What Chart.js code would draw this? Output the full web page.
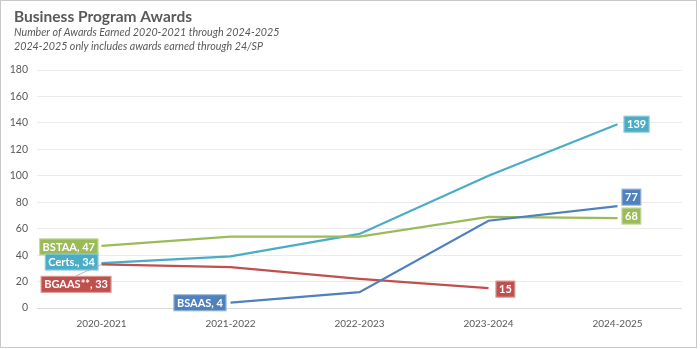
<!DOCTYPE html>
<html>
<head>
<meta charset="utf-8">
<script src="https://cdn.jsdelivr.net/npm/chart.js@4.4.1/dist/chart.umd.min.js"></script>
<style>
  html, body { margin: 0; padding: 0; background: #ffffff; }
  #wrap { position: relative; width: 700px; height: 349px; }
  #frame { position: absolute; left: 0; top: 0; width: 697px; height: 348px; box-sizing: border-box; border: 1px solid #c8c8c8; pointer-events: none; }
</style>
</head>
<body>
<div id="wrap">
  <canvas id="c" width="700" height="349"></canvas>
  <div id="frame"></div>
</div>
<script>
// ---- data ----
const categories = ["2020-2021", "2021-2022", "2022-2023", "2023-2024", "2024-2025"];
const bsaas  = [null, 4, 12, 66, 77];
const bgaas  = [33, 31, 22, 15, null];
const bstaa  = [47, 54, 54, 69, 68];
const certs  = [34, 39, 56, 100, 139];
const seriesNames = ["BSAAS", "BGAAS**", "BSTAA", "Certs."];
const yTicks = [0, 20, 40, 60, 80, 100, 120, 140, 160, 180];

const titleText = "Business Program Awards";
const subtitleLines = [
  "Number of Awards Earned 2020-2021 through 2024-2025",
  "2024-2025 only includes awards earned through 24/SP"
];

// ---- styling ----
const colors = ["#4F81BD", "#C0504D", "#9BBB59", "#4BACC6"];
const grey = "#595959";

// label placement (styling): dataset index, point index, side, gap, dy, show name, leader
const labelSpecs = [
  { ds: 2, i: 0, side: "left",  gap: 3,   dy: 1,  name: true },
  { ds: 3, i: 0, side: "left",  gap: 3,   dy: -1, name: true },
  { ds: 1, i: 0, side: "left",  gap: -10, dy: 20, name: true, leader: true },
  { ds: 0, i: 1, side: "left",  gap: 4,   dy: 0,  name: true },
  { ds: 3, i: 4, side: "right", gap: 6,   dy: 0 },
  { ds: 0, i: 4, side: "right", gap: 4,   dy: -9 },
  { ds: 2, i: 4, side: "right", gap: 4,   dy: -2 },
  { ds: 1, i: 3, side: "right", gap: 7,   dy: 1 }
];

const headerPlugin = {
  id: "header",
  afterDraw(chart) {
    const ctx = chart.ctx;
    ctx.save();
    ctx.fillStyle = grey;
    ctx.textAlign = "left";
    ctx.textBaseline = "middle";
    ctx.font = "bold 15.5px Lato";
    ctx.fillText(titleText, 14, 16.5);
    ctx.font = "italic 10.7px Lato";
    ctx.fillText(subtitleLines[0], 14, 32.5);
    ctx.fillText(subtitleLines[1], 14, 46.5);
    ctx.restore();
  }
};

const labelPlugin = {
  id: "boxLabels",
  afterDatasetsDraw(chart) {
    const ctx = chart.ctx;
    ctx.save();
    ctx.font = "bold 11px Lato";
    ctx.textBaseline = "middle";
    ctx.textAlign = "left";
    labelSpecs.forEach(s => {
      const meta = chart.getDatasetMeta(s.ds);
      const pt = meta.data[s.i];
      const ds = chart.data.datasets[s.ds];
      const v = ds.data[s.i];
      const txt = s.name ? ds.label + ", " + v : String(v);
      const w = ctx.measureText(txt).width + 7;
      const h = 17;
      const cy = pt.y + s.dy;
      const bx = s.side === "left" ? pt.x - s.gap - w : pt.x + s.gap;
      const by = cy - h / 2;
      if (s.leader) {
        ctx.strokeStyle = "#a6a6a6";
        ctx.lineWidth = 0.8;
        ctx.beginPath();
        ctx.moveTo(bx + w / 2, by);
        ctx.lineTo(pt.x, pt.y);
        ctx.stroke();
      }
      ctx.fillStyle = ds.borderColor;
      ctx.fillRect(bx, by, w, h);
      ctx.strokeStyle = "rgba(255,255,255,0.45)";
      ctx.lineWidth = 1;
      ctx.strokeRect(bx + 0.5, by + 0.5, w - 1, h - 1);
      ctx.fillStyle = "#ffffff";
      ctx.fillText(txt, bx + 3.5, cy + 0.5);
    });
    ctx.restore();
  }
};

const seriesData = [bsaas, bgaas, bstaa, certs];
const datasets = seriesData.map((d, k) => ({
  label: seriesNames[k],
  data: d,
  borderColor: colors[k],
  backgroundColor: colors[k],
  borderWidth: 2.25,
  pointRadius: 0,
  pointHoverRadius: 0,
  tension: 0,
  spanGaps: false,
  fill: false
}));

new Chart(document.getElementById("c"), {
  type: "line",
  data: { labels: categories, datasets },
  options: {
    responsive: false,
    animation: false,
    events: [],
    layout: { padding: { left: 0, right: 18, top: 70, bottom: 0 } },
    plugins: {
      legend: { display: false },
      tooltip: { enabled: false },
      title: { display: false },
      subtitle: { display: false }
    },
    scales: {
      x: {
        offset: true,
        grid: { display: false, drawTicks: false },
        border: { display: false },
        ticks: { color: grey, font: { family: "Lato", size: 10 }, padding: 10, maxRotation: 0 },
        afterFit: s => { s.height = 41; }
      },
      y: {
        min: 0, max: 180,
        afterBuildTicks: s => { s.ticks = yTicks.map(v => ({ value: v })); },
        grid: {
          drawTicks: false,
          color: ctx => ctx.tick && ctx.tick.value === 0 ? "#d9d9d9" : "#ebebeb",
          lineWidth: 1
        },
        border: { display: false },
        ticks: { color: grey, font: { family: "Lato", size: 10.5 }, padding: 9 },
        afterFit: s => { s.width = 37; }
      }
    }
  },
  plugins: [labelPlugin, headerPlugin]
});
</script>
</body>
</html>
